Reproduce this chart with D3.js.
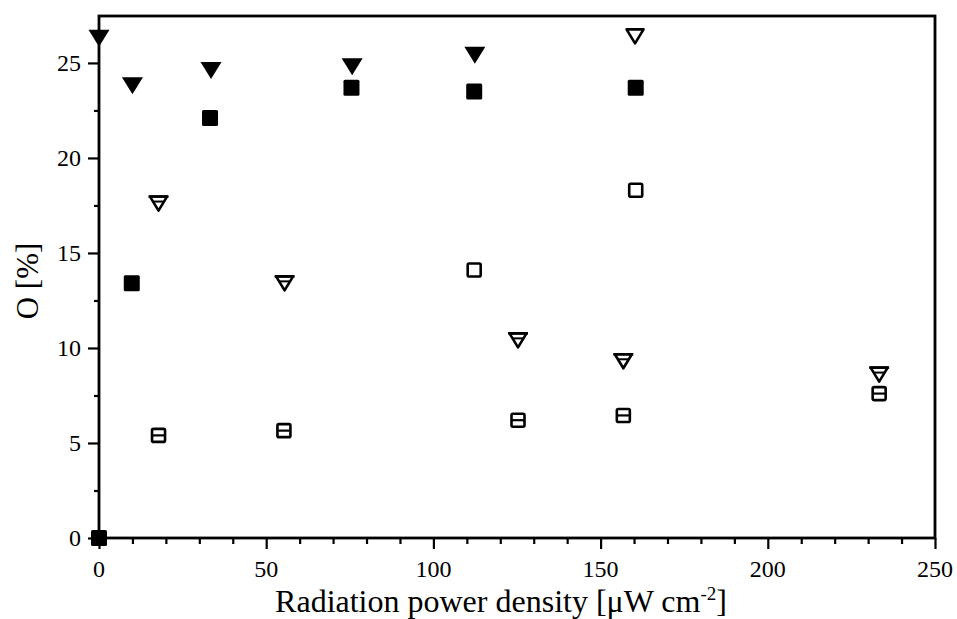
<!DOCTYPE html>
<html><head><meta charset="utf-8">
<script src="https://cdn.jsdelivr.net/npm/d3@7"></script>
<style>body{margin:0;background:#fff}svg{display:block}</style>
</head><body>
<svg id="c" width="957" height="619"></svg>
<script>
// Data (x: radiation power density, y: O %)
const filledTriX = [0, 10, 33.5, 75.7, 112.4];
const filledTriY = [26.3, 23.8, 24.6, 24.8, 25.4];
const filledSqX = [0, 9.8, 33.2, 75.5, 112.2, 160.5];
const filledSqY = [0, 13.4, 22.1, 23.7, 23.5, 23.7];
const openTriX = [17.8, 55.5, 125.3, 156.8, 160.3, 233.3];
const openTriY = [17.6, 13.4, 10.4, 9.3, 26.4, 8.6];
const openSqX = [17.8, 55.3, 112.2, 125.3, 156.8, 160.5, 233.3];
const openSqY = [5.4, 5.65, 14.1, 6.2, 6.45, 18.3, 7.6];
const xTicks = [0, 50, 100, 150, 200, 250];
const yTicks = [0, 5, 10, 15, 20, 25];

const svg = d3.select("#c");
const L = 99, R = 935, T = 16, B = 538;
const x = d3.scaleLinear().domain([0, 250]).range([L, R]);
const y = d3.scaleLinear().domain([0, 27.47]).range([B, T]);
const font = "'Liberation Serif', 'Times New Roman', serif";

// frame
svg.append("rect").attr("x", L).attr("y", T).attr("width", R - L).attr("height", B - T)
  .attr("fill", "none").attr("stroke", "#000").attr("stroke-width", 2.8);

// x axis
const xa = svg.append("g").attr("transform", `translate(0,${B})`)
  .call(d3.axisBottom(x).tickValues(d3.range(0, 251, 10)).tickSize(5).tickFormat(""));
xa.select(".domain").remove();
xa.selectAll(".tick line").attr("stroke-width", 2.2)
  .attr("y2", d => (d % 50 === 0 ? 11 : 6));
svg.append("g").selectAll("text").data(xTicks).join("text")
  .attr("x", d => x(d)).attr("y", 577).attr("text-anchor", "middle")
  .attr("font-family", font).attr("font-size", 24).text(d => d);

// y axis
const ya = svg.append("g").attr("transform", `translate(${L},0)`)
  .call(d3.axisLeft(y).tickValues(d3.range(0, 27.5, 2.5)).tickSize(5).tickFormat(""));
ya.select(".domain").remove();
ya.selectAll(".tick line").attr("stroke-width", 2.2)
  .attr("x2", d => (d % 5 === 0 ? -11 : -5));
svg.append("g").selectAll("text").data(yTicks).join("text")
  .attr("x", 81).attr("y", d => y(d) + 8).attr("text-anchor", "end")
  .attr("font-family", font).attr("font-size", 24).text(d => d);

// axis titles
const xt = svg.append("text").attr("x", 501).attr("y", 612).attr("text-anchor", "middle")
  .attr("font-family", font).attr("font-size", 32);
xt.append("tspan").text("Radiation power density [\u03BCW cm");
xt.append("tspan").attr("dy", -12).attr("font-size", 19).text("-2");
xt.append("tspan").attr("dy", 12).text("]");
svg.append("text").attr("transform", `translate(38,281) rotate(-90)`)
  .attr("text-anchor", "middle").attr("font-family", font).attr("font-size", 31).text("O [%]");

const g = svg.append("g");
// filled triangles
const triPath = (cx, cy, w, h) => `M${cx - w / 2},${cy - h / 2}L${cx + w / 2},${cy - h / 2}L${cx},${cy + h / 2}Z`;
g.selectAll(".ft").data(filledTriX.map((v, i) => [v, filledTriY[i]])).join("path")
  .attr("d", d => triPath(x(d[0]), y(d[1]), 21, 17)).attr("fill", "#000");
// filled squares
g.selectAll(".fs").data(filledSqX.map((v, i) => [v, filledSqY[i]])).join("rect")
  .attr("x", d => x(d[0]) - 8).attr("y", d => y(d[1]) - 8).attr("width", 16).attr("height", 16)
  .attr("rx", 1.5).attr("fill", "#000");
// open triangles
const ot = g.selectAll(".ot").data(openTriX.map((v, i) => [v, openTriY[i]])).join("g");
ot.append("path").attr("d", d => triPath(x(d[0]), y(d[1]), 17, 14))
  .attr("fill", "#fff").attr("stroke", "#000").attr("stroke-width", 2.6).attr("stroke-linejoin", "round");
ot.filter((d, i) => i !== 4).append("line")
  .attr("x1", d => x(d[0]) - 10).attr("x2", d => x(d[0]) + 10)
  .attr("y1", d => y(d[1]) - 7).attr("y2", d => y(d[1]) - 7)
  .attr("stroke", "#000").attr("stroke-width", 2.5);
ot.filter((d, i) => i !== 4).append("line")
  .attr("x1", d => x(d[0]) - 5).attr("x2", d => x(d[0]) + 5)
  .attr("y1", d => y(d[1]) - 2).attr("y2", d => y(d[1]) - 2)
  .attr("stroke", "#000").attr("stroke-width", 2);
// open squares
const os = g.selectAll(".os").data(openSqX.map((v, i) => [v, openSqY[i]])).join("g");
os.append("rect").attr("x", d => x(d[0]) - 6.5).attr("y", d => y(d[1]) - 6.5)
  .attr("width", 13).attr("height", 13).attr("rx", 1.5)
  .attr("fill", "#fff").attr("stroke", "#000").attr("stroke-width", 2.6);
os.filter((d, i) => i !== 2 && i !== 5).append("line")
  .attr("x1", d => x(d[0]) - 6.5).attr("x2", d => x(d[0]) + 6.5)
  .attr("y1", d => y(d[1])).attr("y2", d => y(d[1]))
  .attr("stroke", "#000").attr("stroke-width", 2.2);
</script>
</body></html>
